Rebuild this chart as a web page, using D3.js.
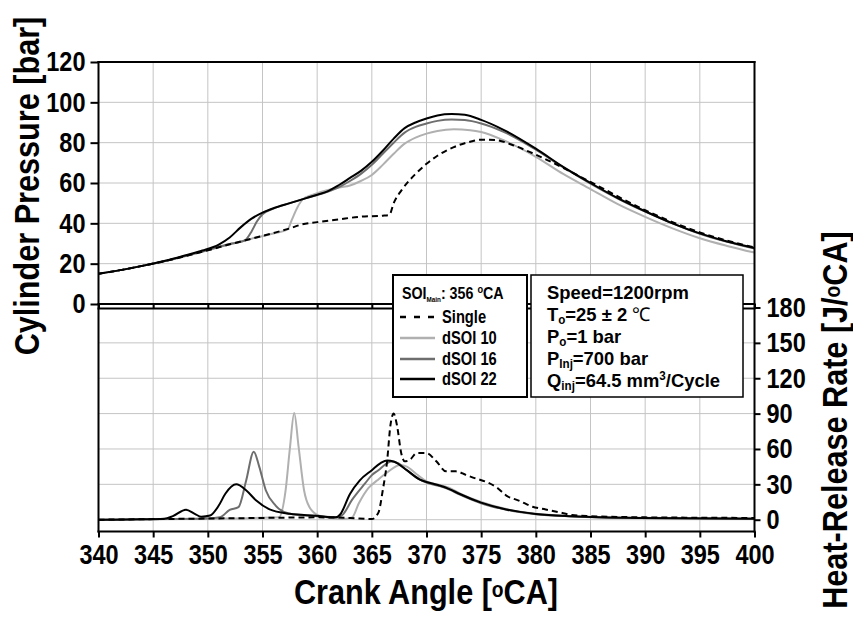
<!DOCTYPE html>
<html>
<head>
<meta charset="utf-8">
<script src="https://cdn.jsdelivr.net/npm/d3@7"></script>
<style>
  body { margin: 0; background: #fff; }
  text { font-family: "Liberation Sans", Arial, sans-serif; font-weight: bold; }
</style>
</head>
<body>
<svg id="chart" width="853" height="621"></svg>
<script>
// ---------------- DATA ----------------
const seriesNames = ["Single", "dSOI 10", "dSOI 16", "dSOI 22"];
const xTicks = [340, 345, 350, 355, 360, 365, 370, 375, 380, 385, 390, 395, 400];
const pressureTicks = [0, 20, 40, 60, 80, 100, 120];
const hrrTicks = [0, 30, 60, 90, 120, 150, 180];

// Cylinder pressure [bar]
const singleP_CA = [340,342,344,346,348,350,352,354,356,357.5,358.5,360,362,364,366,366.6,367,367.8,369,370,371,372.5,374,375,376.3,377.8,379.6,381,385,390,395,400];
const singleP    = [15,16.8,18.9,21.2,23.8,26.6,29.6,32.4,35.2,37.5,39.3,40.6,42,43.3,43.8,44.2,50,57,64.5,69.5,73.5,77.8,80.5,81.5,81.3,79,75,71.5,60.5,46.5,35.5,28];

const soi10P_CA = [340,342,344,346,348,350,352,354,356,357.3,357.7,358.2,358.7,359.5,360,361,362,363,364,365,366,367,368,369,370,371,372.5,374,375,377,380,382.5,385,387.5,390,392.5,395,397.5,400];
const soi10P    = [15,16.8,18.9,21.2,23.8,26.6,29.6,32.4,35,37,42,48,52,54,55,56.5,57.8,58.8,61,64,69,74.5,79.5,82.5,84.5,85.8,86.6,86.2,85.3,81.3,73,64.5,57,49.5,43.2,37.5,32.6,28.8,25.5];

const soi16P_CA = [340,342,344,346,348,350,352,353,353.5,354,354.5,355,356,357.5,359,360,361,362,363,364,365,366,367,368,369,370,371,372.3,373.5,375,377,380,382.5,385,387.5,390,392.5,395,397.5,400];
const soi16P    = [15,16.8,18.9,21.2,23.9,26.8,29.8,30.8,32,36,41,44.5,47.3,50,52.5,54,55.8,58,61,64.5,69,74.5,80,85,87.8,89.5,90.8,91.5,91.2,89.5,85.5,76.5,67.8,59.7,52.3,45.8,40,34.8,30.8,27.5];

const soi22P_CA = [340,342,344,346,348,349.5,351,352,353,354,355,356,357.5,359,360,361,362,363,364,365,366,367,368,369,370,371,372.3,373.5,375,377,380,382.5,385,387.5,390,392.5,395,397.5,400];
const soi22P    = [15,16.8,18.9,21.3,24.2,26.5,29.5,33,38,42.3,45.3,47.5,50,52.5,54.2,56,59,62.5,66,70.5,76,82,87.2,90,92,93.5,94.2,93.8,91.3,86.5,77,68,60,52.5,46,40,35,31,27.8];

// Heat-release rate [J/oCA]
const singleH_CA = [340,345,350,355,360,363,365,365.6,366,366.4,366.7,367,367.3,367.7,368,368.5,369.1,370,370.9,371.8,372.7,373.6,374.5,375.5,376.4,377.3,378.5,379.7,380.9,382.1,383.3,385,390,395,400];
const singleH    = [0,0.5,1,1.5,2,1.5,0.5,6,25,50,80,90,80,56,49.5,51,56.5,56.5,49.5,41,41,38,35,32,27.5,20.5,16,11,8.7,6.4,4,3,2,1.7,1.5];

const soi10H_CA = [340,350,356.5,357.1,357.5,357.9,358.3,358.8,359.3,360.2,362.3,363.2,363.8,364.7,365.5,366.4,367.6,368.2,369.1,370,371.2,372.1,373,375,377.3,380,383.3,389.4,400];
const soi10H    = [0,0.8,2,24,60,90.6,62,25,10.6,3.4,0.5,2,13.7,27,33.4,40,46.5,45,38.5,32.5,29.5,27,22.5,15,9,5,3,1.6,1];

const soi16H_CA = [340,346,350,351.1,352,352.8,353.5,354.2,354.7,355.3,356.2,357.5,360,361.7,362.3,363.2,364.4,365,365.6,366.4,366.8,367.4,368.2,369.4,370,371.2,372.1,373,375,377.3,380,383.3,389.4,400];
const soi16H    = [0,0.5,1,2,8.3,10.6,33,57.7,45,25,12,5,3,2,4,17,31,37.8,42,48,49.4,48,42,34,31.5,28.5,25.5,21.5,14,8.5,4.7,2.8,1.4,0.9];

const soi22H_CA = [340,344,346,346.8,348,348.8,349.4,350.2,351,351.6,352.6,353.5,354.4,355.6,357.5,359.9,361.7,362.1,363,363.9,365,365.8,366.4,367,368.2,369.4,370,371.2,372.1,373,375,377.3,380,383.3,389.4,400];
const soi22H    = [0,0.3,0.8,3,8.5,5,2.5,3.5,12,22,30,25,16.5,9,5,3.4,2,4.4,21.8,33.4,42,48,50.3,49.4,42,34,32,29,26,22,14.5,8.7,4.9,2.9,1.5,0.9];

// ---------------- LAYOUT ----------------
const svg = d3.select("#chart");
const x = d3.scaleLinear().domain([340, 400]).range([98.5, 754.5]);
const yP = d3.scaleLinear().domain([0, 120]).range([304, 62]);
const yH = d3.scaleLinear().domain([-10, 180]).range([531.5, 307.5]);

const styles = {
  "Single":  { stroke: "#000", dash: "6,4", width: 2 },
  "dSOI 10": { stroke: "#b0b0b0", dash: null, width: 2 },
  "dSOI 16": { stroke: "#6e6e6e", dash: null, width: 2 },
  "dSOI 22": { stroke: "#000", dash: null, width: 2 }
};
const SX = 0.84; // horizontal compression of the reference lettering

const grid = svg.append("g").attr("stroke", "#c4c4c4").attr("stroke-width", 1);
xTicks.slice(1, -1).forEach(v => {
  grid.append("line").attr("x1", x(v)).attr("x2", x(v)).attr("y1", 62).attr("y2", 531.5);
});
pressureTicks.slice(1, -1).forEach(v => {
  grid.append("line").attr("x1", x(340)).attr("x2", x(400)).attr("y1", yP(v)).attr("y2", yP(v));
});
hrrTicks.slice(0, -1).forEach(v => {
  grid.append("line").attr("x1", x(340)).attr("x2", x(400)).attr("y1", yH(v)).attr("y2", yH(v));
});

// Curves
const line = (yScale) => d3.line().x(d => x(d[0])).y(d => yScale(d[1])).curve(d3.curveMonotoneX);
const zip = (a, b) => a.map((v, i) => [v, b[i]]);
const pressureSeries = {
  "Single": zip(singleP_CA, singleP), "dSOI 10": zip(soi10P_CA, soi10P),
  "dSOI 16": zip(soi16P_CA, soi16P), "dSOI 22": zip(soi22P_CA, soi22P)
};
const hrrSeries = {
  "Single": zip(singleH_CA, singleH), "dSOI 10": zip(soi10H_CA, soi10H),
  "dSOI 16": zip(soi16H_CA, soi16H), "dSOI 22": zip(soi22H_CA, soi22H)
};
const drawOrder = ["dSOI 10", "dSOI 16", "dSOI 22", "Single"];
const curves = svg.append("g").attr("fill", "none");
drawOrder.forEach(name => {
  const s = styles[name];
  [[pressureSeries[name], yP], [hrrSeries[name], yH]].forEach(([data, ys]) => {
    curves.append("path").datum(data).attr("d", line(ys))
      .attr("stroke", s.stroke).attr("stroke-width", s.width)
      .attr("stroke-dasharray", s.dash).attr("stroke-linejoin", "round");
  });
});

// Frame lines
const frame = svg.append("g").attr("stroke", "#000").attr("stroke-width", 2);
frame.append("line").attr("x1", 97.5).attr("x2", 755.5).attr("y1", 62).attr("y2", 62);
frame.append("line").attr("x1", 97.5).attr("x2", 755.5).attr("y1", 304).attr("y2", 304);
frame.append("line").attr("x1", 97.5).attr("x2", 755.5).attr("y1", 308.5).attr("y2", 308.5);

// Axes
const axisStyle = g => { g.selectAll("path,line").attr("stroke", "#000").attr("stroke-width", 2); };
const condense = (g, offX, offY) => g.selectAll("text")
  .attr("font-size", 28).attr("font-weight", "bold")
  .attr("font-family", '"Liberation Sans", Arial, sans-serif').attr("fill", "#000")
  .attr("x", 0).attr("y", 0)
  .attr("transform", `translate(${offX},${offY}) scale(${SX},1)`);

const LT = 8, LP = 5;
svg.append("g").attr("transform", "translate(98.5,0)")
  .call(d3.axisLeft(yP).tickValues(pressureTicks).tickSize(LT).tickPadding(LP).tickSizeOuter(0))
  .call(g => g.select(".domain").remove())
  .call(axisStyle).call(g => condense(g, -(LT + LP), 0));
svg.append("line").attr("x1", 98.5).attr("x2", 98.5).attr("y1", 61).attr("y2", 532.5)
  .attr("stroke", "#000").attr("stroke-width", 2);

const RT = 6, RP = 6;
svg.append("g").attr("transform", "translate(754.5,0)")
  .call(d3.axisRight(yH).tickValues(hrrTicks).tickSize(RT).tickPadding(RP).tickSizeOuter(0))
  .call(g => g.select(".domain").remove())
  .call(axisStyle).call(g => condense(g, RT + RP, 0));
svg.append("line").attr("x1", 754.5).attr("x2", 754.5).attr("y1", 61).attr("y2", 532.5)
  .attr("stroke", "#000").attr("stroke-width", 2);

const BT = 6, BP = 7;
svg.append("g").attr("transform", "translate(0,531.5)")
  .call(d3.axisBottom(x).tickValues(xTicks).tickSize(BT).tickPadding(BP).tickSizeOuter(0))
  .call(g => g.select(".domain").attr("d", "M97.5,0H755.5"))
  .call(axisStyle).call(g => condense(g, 0, BT + BP));

// mid ticks between the two panels
svg.append("g").attr("transform", "translate(0,304)")
  .call(d3.axisBottom(x).tickValues(xTicks).tickSize(4.5).tickFormat("").tickSizeOuter(0))
  .call(g => g.select(".domain").remove())
  .call(axisStyle);

// Axis titles
const titleSize = 35, TS = 0.875;
const xt = svg.append("text").attr("transform", `translate(426,604) scale(${TS},1)`)
  .attr("text-anchor", "middle").attr("font-size", titleSize);
xt.append("tspan").text("Crank Angle [");
xt.append("tspan").attr("font-size", 22).attr("dy", -7).text("o");
xt.append("tspan").attr("dy", 7).text("CA]");

svg.append("text").attr("transform", `translate(39,186) rotate(-90) scale(${TS},1)`)
  .attr("text-anchor", "middle").attr("font-size", titleSize).text("Cylinder Pressure [bar]");

const rt = svg.append("text").attr("transform", `translate(847,420) rotate(-90) scale(${TS},1)`)
  .attr("text-anchor", "middle").attr("font-size", titleSize);
rt.append("tspan").text("Heat-Release Rate [J/");
rt.append("tspan").attr("font-size", 22).attr("dy", -7).text("o");
rt.append("tspan").attr("dy", 7).text("CA]");

// Legend box
const lg = svg.append("g");
lg.append("rect").attr("x", 393).attr("y", 275).attr("width", 134).attr("height", 122)
  .attr("fill", "#fff").attr("stroke", "#000").attr("stroke-width", 2);
const lt1 = lg.append("text").attr("transform", `translate(402,299) scale(${SX},1)`).attr("font-size", 17);
lt1.append("tspan").text("SOI");
lt1.append("tspan").attr("font-size", 7.5).attr("dy", 3).text("Main");
lt1.append("tspan").attr("dy", -3).text(": 356 ");
lt1.append("tspan").attr("font-size", 11).attr("dy", -6).text("o");
lt1.append("tspan").attr("dy", 6).text("CA");
const legendY = [317, 338, 359, 379];
seriesNames.forEach((name, i) => {
  const s = styles[name];
  lg.append("line").attr("x1", 400).attr("x2", 435).attr("y1", legendY[i]).attr("y2", legendY[i])
    .attr("stroke", s.stroke).attr("stroke-width", 2.5).attr("stroke-dasharray", s.dash ? "6,8" : null);
  lg.append("text").attr("transform", `translate(442,${legendY[i] + 6}) scale(${SX},1)`)
    .attr("font-size", 17.5).text(name);
});

// Info box
const ib = svg.append("g");
ib.append("rect").attr("x", 531).attr("y", 275).attr("width", 212).attr("height", 122)
  .attr("fill", "#fff").attr("stroke", "#000").attr("stroke-width", 1.5);
const infoX = 547, fs = 19;
const info = (y) => ib.append("text").attr("transform", `translate(${infoX},${y}) scale(0.97,1)`).attr("font-size", fs);
info(299).text("Speed=1200rpm");
const t2 = info(320.5);
t2.append("tspan").text("T");
t2.append("tspan").attr("font-size", 12).attr("dy", 3).text("o");
t2.append("tspan").attr("dy", -3).text("=25 \u00b1 2 ");
t2.append("tspan").attr("font-weight", "normal").text("\u2103");
const t3 = info(343);
t3.append("tspan").text("P");
t3.append("tspan").attr("font-size", 12).attr("dy", 3).text("o");
t3.append("tspan").attr("dy", -3).text("=1 bar");
const t4 = info(365);
t4.append("tspan").text("P");
t4.append("tspan").attr("font-size", 12).attr("dy", 3).text("Inj");
t4.append("tspan").attr("dy", -3).text("=700 bar");
const t5 = info(387);
t5.append("tspan").text("Q");
t5.append("tspan").attr("font-size", 12).attr("dy", 3).text("inj");
t5.append("tspan").attr("dy", -3).text("=64.5 mm");
t5.append("tspan").attr("font-size", 12).attr("dy", -7).text("3");
t5.append("tspan").attr("dy", 7).text("/Cycle");
</script>
</body>
</html>
